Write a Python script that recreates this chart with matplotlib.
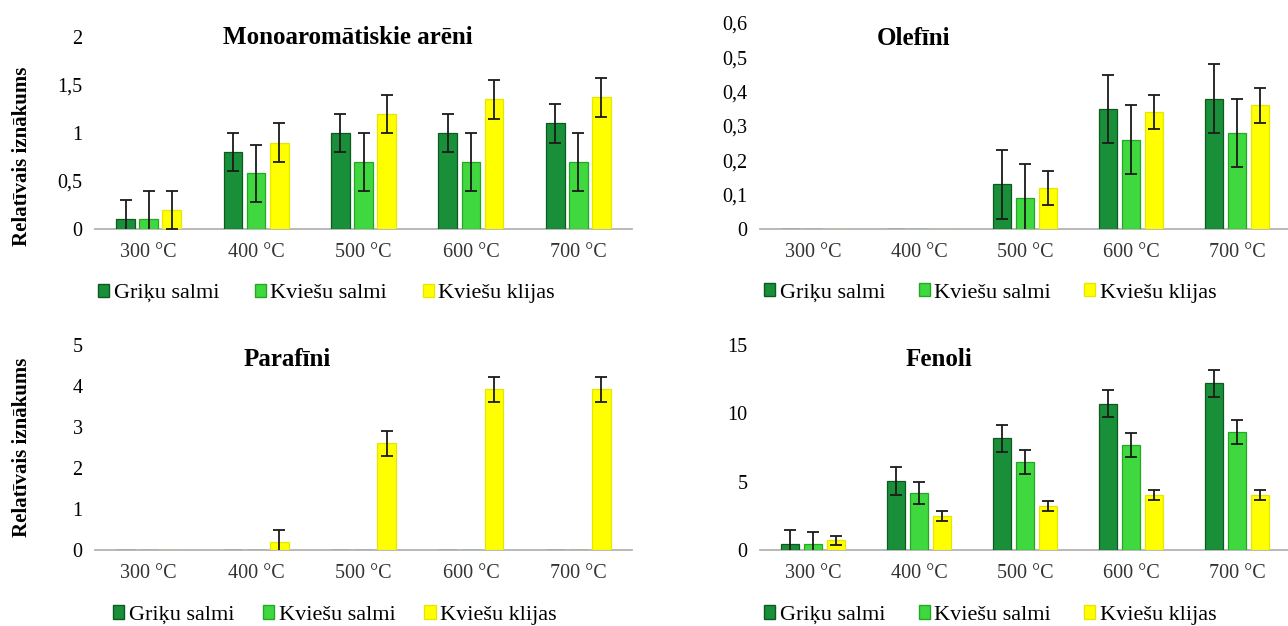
import numpy as np
import matplotlib
matplotlib.use("Agg")
import matplotlib.pyplot as plt
from matplotlib.patches import Patch

plt.rcParams["font.family"] = ["Liberation Serif", "DejaVu Serif"]

temps = ["300 °C", "400 °C", "500 °C", "600 °C", "700 °C"]
series_names = ["Griķu salmi", "Kviešu salmi", "Kviešu klijas"]

# Monoaromātiskie arēni
mono_griku = [0.1, 0.8, 1.0, 1.0, 1.1]
mono_griku_err = [0.2, 0.2, 0.2, 0.2, 0.2]
mono_kv_salmi = [0.1, 0.58, 0.7, 0.7, 0.7]
mono_kv_salmi_err = [0.3, 0.3, 0.3, 0.3, 0.3]
mono_klijas = [0.2, 0.9, 1.2, 1.35, 1.37]
mono_klijas_err = [0.2, 0.2, 0.2, 0.2, 0.2]

# Olefīni
ole_griku = [0, 0, 0.13, 0.35, 0.38]
ole_griku_err = [0, 0, 0.1, 0.1, 0.1]
ole_kv_salmi = [0, 0, 0.09, 0.26, 0.28]
ole_kv_salmi_err = [0, 0, 0.1, 0.1, 0.1]
ole_klijas = [0, 0, 0.12, 0.34, 0.36]
ole_klijas_err = [0, 0, 0.05, 0.05, 0.05]

# Parafīni
par_griku = [0, 0, 0, 0, 0]
par_kv_salmi = [0, 0, 0, 0, 0]
par_klijas = [0, 0.2, 2.6, 3.92, 3.92]
par_klijas_err = [0, 0.3, 0.3, 0.3, 0.3]

# Fenoli
fen_griku = [0.45, 5.05, 8.17, 10.7, 12.2]
fen_griku_err = [1.0, 1.0, 1.0, 1.0, 1.0]
fen_kv_salmi = [0.45, 4.15, 6.44, 7.68, 8.63]
fen_kv_salmi_err = [0.9, 0.8, 0.85, 0.85, 0.85]
fen_klijas = [0.7, 2.5, 3.22, 4.02, 4.02]
fen_klijas_err = [0.3, 0.35, 0.35, 0.35, 0.35]

mono_ticks = [0, 0.5, 1, 1.5, 2]
mono_labels = ["0", "0,5", "1", "1,5", "2"]
ole_ticks = [0, 0.1, 0.2, 0.3, 0.4, 0.5, 0.6]
ole_labels = ["0", "0,1", "0,2", "0,3", "0,4", "0,5", "0,6"]
par_ticks = [0, 1, 2, 3, 4, 5]
par_labels = ["0", "1", "2", "3", "4", "5"]
fen_ticks = [0, 5, 10, 15]
fen_labels = ["0", "5", "10", "15"]

face_colors = ["#1a8f3a", "#3fd93f", "#ffff00"]
edge_colors = ["#0c5a22", "#26a526", "#e6e600"]

W, H = 1288, 626
fig = plt.figure(figsize=(W / 100, H / 100), dpi=100)


def px_axes(x0, x1, y_zero, y_top):
    return fig.add_axes([x0 / W, 1 - y_zero / H, (x1 - x0) / W, (y_zero - y_top) / H])


def draw_panel(ax, values, errors, ticks, tick_labels, title, title_pos, legend_pos, col_space):
    x = np.arange(len(temps))
    width = 0.175
    step = 0.215
    for i, (vals, errs) in enumerate(zip(values, errors)):
        pos = x + (i - 1) * step
        ax.bar(pos, vals, width, color=face_colors[i], edgecolor=edge_colors[i],
               linewidth=0.9, zorder=2)
        if errs is not None:
            vals_arr = np.array(vals)
            errs_arr = np.array(errs)
            mask = errs_arr > 0
            ax.errorbar(pos[mask], vals_arr[mask], yerr=errs_arr[mask], fmt="none",
                        ecolor="#1a1a1a", elinewidth=1.3, capsize=4, capthick=1.3, zorder=3)
    ax.set_xlim(-0.5, len(temps) - 0.5)
    ax.set_ylim(ticks[0], ticks[-1])
    ax.set_yticks(ticks)
    ax.set_yticklabels(tick_labels, fontsize=14.5)
    ax.set_xticks(x)
    ax.set_xticklabels(temps, fontsize=14.5, color="#333333")
    ax.tick_params(length=0, pad=9)
    ax.tick_params(axis="x", pad=10)
    for side in ["top", "right", "left"]:
        ax.spines[side].set_visible(False)
    ax.spines["bottom"].set_color("#b3b3b3")
    ax.spines["bottom"].set_linewidth(1.3)
    ax.spines["bottom"].set_zorder(1)
    ax.patch.set_alpha(0)
    ax.text(title_pos[0], title_pos[1], title, transform=ax.transAxes,
            ha="center", va="center", fontsize=18, fontweight="bold")
    handles = [Patch(facecolor=face_colors[i], edgecolor=edge_colors[i]) for i in range(3)]
    ax.legend(handles, series_names, loc="center left", bbox_to_anchor=legend_pos,
              ncol=3, frameon=False, fontsize=16, handlelength=0.5, handleheight=0.55,
              handletextpad=0.2, columnspacing=col_space, borderpad=0, borderaxespad=0)


ax1 = px_axes(95, 632, 229, 37)
draw_panel(ax1, [mono_griku, mono_kv_salmi, mono_klijas],
           [mono_griku_err, mono_kv_salmi_err, mono_klijas_err],
           mono_ticks, mono_labels, "Monoaromātiskie arēni", (0.47, 1.0), (0.006, -0.335), 1.6)

ax2 = px_axes(760, 1290, 229, 23)
draw_panel(ax2, [ole_griku, ole_kv_salmi, ole_klijas],
           [ole_griku_err, ole_kv_salmi_err, ole_klijas_err],
           ole_ticks, ole_labels, "Olefīni", (0.29, 0.927), (0.008, -0.31), 1.5)

ax3 = px_axes(95, 632, 550, 345)
draw_panel(ax3, [par_griku, par_kv_salmi, par_klijas],
           [None, None, par_klijas_err],
           par_ticks, par_labels, "Parafīni", (0.357, 0.927), (0.034, -0.317), 1.3)

ax4 = px_axes(760, 1290, 550, 345)
draw_panel(ax4, [fen_griku, fen_kv_salmi, fen_klijas],
           [fen_griku_err, fen_kv_salmi_err, fen_klijas_err],
           fen_ticks, fen_labels, "Fenoli", (0.338, 0.927), (0.008, -0.317), 1.5)

fig.text(22 / W, 1 - 156 / H, "Relatīvais iznākums", rotation=90, ha="center", va="center",
         fontsize=15, fontweight="bold")
fig.text(22 / W, 1 - 447 / H, "Relatīvais iznākums", rotation=90, ha="center", va="center",
         fontsize=15, fontweight="bold")

fig.savefig("out.png", dpi=100)
